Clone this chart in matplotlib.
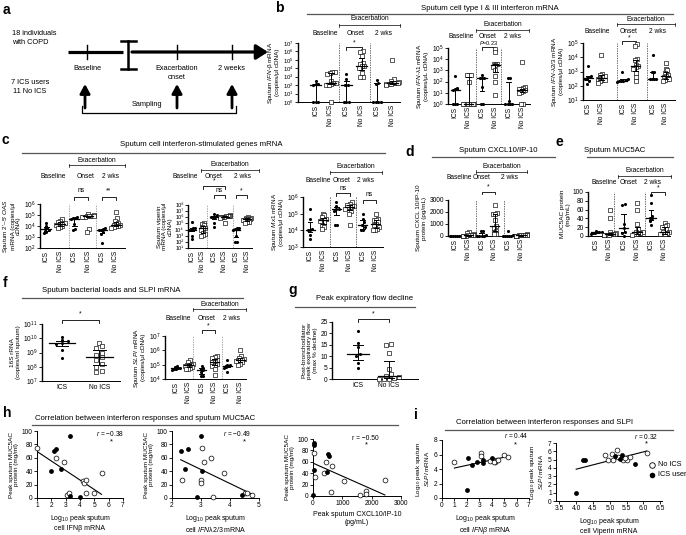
import numpy as np
import matplotlib
matplotlib.use('Agg')
import matplotlib.pyplot as plt
from matplotlib.ticker import FixedLocator, NullLocator, LogFormatterMathtext, FuncFormatter

plt.rcParams['font.family'] = ['Liberation Sans', 'DejaVu Sans']
plt.rcParams['mathtext.fontset'] = 'custom'
plt.rcParams['mathtext.rm'] = 'Liberation Sans'
plt.rcParams['mathtext.it'] = 'Liberation Sans:italic'
plt.rcParams['mathtext.bf'] = 'Liberation Sans:bold'
plt.rcParams['axes.linewidth'] = 0.7

W, H = 686, 535

# ---------------- data ----------------
groups6 = ['ICS', 'No ICS', 'ICS', 'No ICS', 'ICS', 'No ICS']
groups2 = ['ICS', 'No ICS']

ifnb = [[300, 130, 120, 110, 1, 1, 1],
        [4000, 3500, 3000, 2000, 300, 200, 200, 150, 100, 100, 1],
        [2000, 500, 100, 100, 1, 1, 1],
        [1e6, 8e5, 3e5, 4e4, 3e4, 2e4, 2e4, 1e4, 3e3, 1e3, 1e3],
        [400, 200, 150, 1, 1, 1, 1],
        [1e5, 500, 300, 250, 200, 200, 180, 150, 150, 120, 100]]

ifnl1 = [[300, 25, 20, 18, 1, 1, 1],
         [400, 400, 400, 100, 1, 1, 1, 1, 1, 1, 1],
         [400, 200, 200, 200, 30, 1, 1],
         [8e4, 4e4, 4e3, 4e3, 3.5e3, 3e3, 2e3, 1e3, 300, 100, 6],
         [200, 200, 2, 1, 1, 1, 1],
         [6000, 30, 25, 20, 20, 18, 15, 12, 10, 1, 1]]

ifnl23 = [[2500, 500, 400, 350, 300, 200, 130],
          [1.5e4, 700, 600, 500, 400, 350, 300, 250, 250, 200, 150],
          [1000, 300, 250, 220, 200, 200, 180],
          [8e4, 6e4, 7e3, 6e3, 3e3, 2.5e3, 2e3, 1.5e3, 800, 400, 200],
          [1.5e4, 1000, 1000, 300, 300, 300, 280],
          [4000, 1500, 1200, 800, 600, 500, 400, 300, 300, 250, 200]]

oas = [[2e4, 1e4, 6e3, 5e3, 4e3, 3e3, 2.5e3],
       [4e4, 3e4, 2.5e4, 2e4, 1.8e4, 1.5e4, 1.3e4, 1.2e4, 1e4, 8e3, 6e3],
       [6e4, 5e4, 5e4, 4e4, 1.5e4, 5e3, 4e3],
       [1.2e5, 1e5, 9e4, 9e4, 8e4, 8e4, 7e4, 7e4, 6e4, 5e3, 3e3],
       [6e3, 5e3, 4e3, 4e3, 3e3, 2e3, 300],
       [2e5, 5e4, 3e4, 2e4, 1.5e4, 1.3e4, 1.2e4, 1.1e4, 1e4, 8e3, 7e3]]

viperin = [[2e5, 2e4, 1.5e4, 1e4, 1e4, 1e3, 300],
           [1e5, 8e4, 5e4, 3e4, 2e4, 1.5e4, 1e4, 3e3, 2e3, 1.5e3, 1e3],
           [3e6, 2e6, 1e6, 1e6, 1e6, 1e5, 3e4],
           [2e6, 1.8e6, 1.6e6, 1.5e6, 1.4e6, 1.3e6, 1.2e6, 1.1e6, 1e6, 9e5, 1e5],
           [2e4, 1.5e4, 1.2e4, 1e4, 1e3, 100, 80],
           [1e6, 8e5, 7e5, 6e5, 5e5, 5e5, 4e5, 3e5, 2e5, 1.5e5, 1e5]]

mx1 = [[2e5, 5e4, 1.2e4, 1e4, 1e4, 5e3, 3e3],
       [1e5, 8e4, 6e4, 5e4, 4e4, 4e4, 3.5e4, 3e4, 2e4, 1.5e4, 1.2e4],
       [5e5, 3e5, 2e5, 2e5, 1.5e5, 2e4, 2e4],
       [5e5, 4e5, 3.5e5, 3e5, 3e5, 2.5e5, 2.5e5, 2e5, 1.5e5, 1e5, 2e4],
       [1e5, 5e4, 3e4, 2e4, 1.5e4, 1e4, 1e4],
       [1e5, 5e4, 4e4, 4e4, 3e4, 2.5e4, 2e4, 1.5e4, 1.2e4, 1e4, 1e4]]

cxcl10 = [[30, 20, 10, 10, 5, 5, 0],
          [300, 250, 150, 100, 80, 60, 50, 40, 30, 20, 10],
          [450, 400, 50, 20, 10, 5, 0],
          [2600, 1900, 1850, 1850, 1300, 800, 650, 450, 350, 200, 150],
          [450, 50, 30, 20, 10, 5, 0],
          [150, 120, 100, 80, 70, 60, 50, 40, 30, 20, 10]]

muc5ac = [[12, 10, 9, 8, 7, 6, 5],
          [58, 40, 8, 6, 5, 4, 4, 3, 3, 2, 2],
          [73, 71, 27, 18, 10, 6, 0],
          [75, 60, 28, 15, 10, 8, 7, 6, 5, 4, 3],
          [93, 75, 45, 42, 40, 35, 25],
          [30, 25, 22, 20, 15, 10, 8, 6, 5, 5, 4]]

rrna16s = [[1.3e10, 7e9, 6e9, 5e9, 4e9, 1.5e9, 4e8],
           [5e9, 3e9, 2e9, 1e9, 7e8, 5e8, 3e8, 1.5e8, 1e8, 5e7, 4e7]]

slpi = [[8e4, 7e4, 6e4, 6e4, 5e4, 5e4, 4e4],
        [2e5, 1.5e5, 1.2e5, 1e5, 1e5, 9e4, 8e4, 7e4, 6e4, 5e4, 5e4],
        [8e4, 6e4, 5e4, 4e4, 3e4, 1.5e4, 1.5e4],
        [4e5, 3.5e5, 3e5, 2e5, 1.5e5, 1.5e5, 1.2e5, 1e5, 8e4, 5e4, 2e4],
        [2e5, 1e5, 9e4, 8e4, 7e4, 6e4, 3e4],
        [1e6, 4e5, 3e5, 2.5e5, 2e5, 2e5, 2e5, 1.8e5, 1.5e5, 1.2e5, 1e5]]

pef = [[21, 16, 14, 11, 10, 7, 5],
       [15.5, 15, 11.5, 4.5, 2, 1.5, 1, 0.5, 0, 0, 0]]

h1_ics_x = [2.0, 2.2, 2.3, 2.7, 3.3, 3.3, 4.0]
h1_ics_y = [41, 70, 73, 43, 92, 3, 2]
h1_no_x = [1.0, 2.3, 2.9, 3.1, 3.2, 4.2, 4.3, 4.4, 4.4, 5.0, 5.5]
h1_no_y = [75, 60, 53, 5, 8, 25, 22, 27, 7, 8, 38]

h2_ics_x = [2.3, 2.45, 2.55, 2.85, 3.0, 3.05, 4.4]
h2_ics_y = [70, 43, 73, 2, 92, 41, 4]
h2_no_x = [2.35, 3.0, 3.0, 3.05, 3.1, 3.35, 3.4, 3.8, 4.5, 4.6, 4.75]
h2_no_y = [27, 27, 23, 75, 53, 60, 1, 38, 8, 8, 5]

h3_ics_x = [20, 30, 50, 15, 520, 560, 480]
h3_ics_y = [93, 90, 45, 2, 73, 71, 42]
h3_no_x = [20, 60, 380, 430, 650, 600, 1050, 1600, 1800, 1800, 2450]
h3_no_y = [75, 33, 40, 60, 53, 7, 27, 2, 8, 4, 28]

i1_ics_x = [2.1, 2.4, 2.8, 3.3, 3.3, 4.0, 2.0]
i1_ics_y = [5.5, 4.6, 5.0, 4.8, 5.3, 5.5, 1.1]
i1_no_x = [1.0, 3.1, 3.1, 4.1, 4.3, 4.4, 5.0, 5.3, 3.9, 4.2, 4.5]
i1_no_y = [5.0, 6.2, 5.8, 5.2, 5.0, 5.3, 5.9, 5.6, 5.1, 5.0, 5.2]

i2_ics_x = [4.0, 4.2, 4.25, 5.15, 5.3, 5.35, 5.75]
i2_ics_y = [1.0, 5.0, 5.0, 5.4, 5.1, 5.5, 4.5]
i2_no_x = [4.85, 5.05, 5.2, 4.95, 5.1, 5.25, 5.4, 5.5, 5.6, 6.1, 5.45]
i2_no_y = [5.6, 5.7, 6.2, 5.0, 4.9, 5.3, 5.0, 5.0, 5.3, 5.8, 5.2]

r_values = ['$r$ = \u22120.38', '$r$ = \u22120.49', 'r = \u22120.50', '$r$ = 0.44', '$r$ = 0.32']

# ---------------- figure ----------------
fig = plt.figure(figsize=(W / 100, H / 100), dpi=100)
ov = fig.add_axes([0, 0, 1, 1])
ov.set_xlim(0, W)
ov.set_ylim(H, 0)
ov.axis('off')

FS = 4.8
SUP = str.maketrans('0123456789', '\u2070\u00b9\u00b2\u00b3\u2074\u2075\u2076\u2077\u2078\u2079')


def sup_fmt(v, _):
    return '10' + str(int(round(np.log10(v)))).translate(SUP)


def T(x, y, s, **kw):
    kw.setdefault('fontsize', FS)
    kw.setdefault('ha', 'center')
    kw.setdefault('va', 'center')
    ov.text(x, y, s, **kw)


def letter(x, y, s):
    T(x, y, s, fontsize=10, fontweight='bold', ha='left')


def title(x, y, s, lx0, lx1, ly):
    T(x, y, s, fontsize=5.6)
    ov.plot([lx0, lx1], [ly, ly], color='#555555', lw=0.9)


def rect_ax(x0, y0, x1, y1):
    ax = fig.add_axes([x0 / W, 1 - y1 / H, (x1 - x0) / W, (y1 - y0) / H])
    for s in ['top', 'right']:
        ax.spines[s].set_visible(False)
    ax.tick_params(direction='out', length=2, width=0.6, labelsize=FS, pad=1)
    ax.patch.set_alpha(0)
    return ax


def spread(vals, log, yr):
    v = np.log10(np.maximum(vals, 1e-9)) if log else np.asarray(vals, float)
    thresh = 0.06 * (yr[1] - yr[0])
    order = np.argsort(v)
    offs = np.zeros(len(v))
    clusters = []
    for idx in order:
        if clusters and v[idx] - v[clusters[-1][0]] < thresh:
            clusters[-1].append(idx)
        else:
            clusters.append([idx])
    for cl in clusters:
        k = len(cl)
        o = (np.arange(k) - (k - 1) / 2) * 0.16
        o = np.clip(o, -0.42, 0.42)
        for i, oo in zip(cl, o):
            offs[i] = oo
    return offs


def dotplot(rect, data, xlim, log, ylim, yticks, ylabel, pos=None, dashed=(),
            headers=(), head_y=None, exac=None, sigs=(), xlabels=groups6, rot=90,
            ytick_fs=FS, sig_fs=FS, dash_color='#333333', plain_sup=False):
    x0, y0, x1, y1 = rect
    ax = rect_ax(*rect)
    if pos is None:
        pos = list(range(len(data)))
    tr = ax.get_xaxis_transform()

    def yf(py):
        return (y1 - py) / (y1 - y0)

    if log:
        ax.set_yscale('log')
        yr = (np.log10(ylim[0]), np.log10(ylim[1]))
    else:
        yr = ylim
    for i, (vals, p) in enumerate(zip(data, pos)):
        vals = np.asarray(vals, float)
        pv = np.maximum(vals, ylim[0]) if log else vals
        offs = spread(pv, log, yr)
        if i % 2 == 0:
            ax.scatter(p + offs, pv, s=5, c='k', marker='o', lw=0, zorder=3, clip_on=False)
        else:
            ax.scatter(p + offs, pv, s=7, facecolors='white', edgecolors='k', marker='s',
                       lw=0.45, zorder=3, clip_on=False)
        q1, med, q3 = np.percentile(pv, [25, 50, 75])
        ax.plot([p - 0.35, p + 0.35], [med, med], c='k', lw=0.9, zorder=4, clip_on=False)
        ax.plot([p, p], [q1, q3], c='k', lw=0.7, zorder=4, clip_on=False)
        for q in (q1, q3):
            ax.plot([p - 0.17, p + 0.17], [q, q], c='k', lw=0.7, zorder=4, clip_on=False)
    ax.set_xlim(*xlim)
    ax.set_ylim(*ylim)
    ax.yaxis.set_major_locator(FixedLocator(yticks))
    ax.yaxis.set_minor_locator(NullLocator())
    if log:
        if plain_sup:
            ax.yaxis.set_major_formatter(FuncFormatter(sup_fmt))
        else:
            ax.yaxis.set_major_formatter(LogFormatterMathtext())
    ax.tick_params(axis='y', labelsize=ytick_fs)
    ax.set_xticks(pos)
    ax.set_xticklabels(xlabels, rotation=rot, fontsize=FS)
    ax.tick_params(axis='x', length=0, pad=2)
    ax.spines['left'].set_linewidth(1.0)
    ax.set_ylabel(ylabel, fontsize=4.6, labelpad=2, linespacing=1.1)
    for d in dashed:
        ax.axvline(d, ls=(0, (2, 1.5)), color=dash_color, lw=0.5)
    for txt, hx in headers:
        ax.text(hx, yf(head_y), txt, transform=tr, ha='center', va='center', fontsize=FS)
    if exac is not None:
        xa, xb, ty, ly = exac
        ax.plot([xa, xb], [yf(ly)] * 2, transform=tr, c='k', lw=0.5, clip_on=False)
        for xx in (xa, xb):
            ax.plot([xx, xx], [yf(ly - 1.5), yf(ly + 1.5)], transform=tr, c='k', lw=0.5, clip_on=False)
        ax.text((xa + xb) / 2, yf(ty), 'Exacerbation', transform=tr, ha='center', va='center', fontsize=FS)
    for ia, ib, txt, ty, ly in sigs:
        xa, xb = pos[ia], pos[ib]
        ax.plot([xa, xa, xb, xb], [yf(ly + 2.5), yf(ly), yf(ly), yf(ly + 2.5)], transform=tr,
                c='k', lw=0.6, clip_on=False)
        ax.text((xa + xb) / 2, yf(ty), txt, transform=tr, ha='center', va='center', fontsize=sig_fs)
    return ax


def scatterplot(rect, xi, yi, xn, yn, xlim, ylim, xticks, yticks, xlabel, ylabel, rtxt, rpos, star):
    ax = rect_ax(*rect)
    ax.scatter(xn, yn, s=12, facecolors='white', edgecolors='k', lw=0.5, zorder=3, clip_on=False)
    ax.scatter(xi, yi, s=12, c='k', lw=0, zorder=3, clip_on=False)
    allx = np.r_[xi, xn]
    ally = np.r_[yi, yn]
    k, b = np.polyfit(allx, ally, 1)
    xx = np.array([allx.min(), allx.max()])
    ax.plot(xx, k * xx + b, c='k', lw=0.8, zorder=2)
    ax.set_xlim(*xlim)
    ax.set_ylim(*ylim)
    ax.set_xticks(xticks)
    ax.set_yticks(yticks)
    ax.set_xlabel(xlabel, fontsize=5.0, labelpad=3, linespacing=1.1)
    ax.set_ylabel(ylabel, fontsize=4.6, labelpad=2, linespacing=1.1)
    ax.text(rpos[0], rpos[1], rtxt, transform=ax.transAxes, fontsize=FS, ha='center', va='center')
    ax.text(star[0], star[1], '*', fontsize=5.5, ha='center', va='center')
    return ax


# ---------------- panel a (schematic) ----------------
letter(3, 10, 'a')
T(12, 38, '18 individuals\nwith COPD', ha='left', fontsize=5.3, linespacing=1.3)
ov.plot([68, 123], [52, 52], lw=2.3, c='k', solid_capstyle='butt')
ov.plot([128, 128], [41, 69], lw=1.8, c='k')
ov.plot([121, 136], [41, 41], lw=1.8, c='k')
ov.plot([121, 136], [69, 69], lw=1.8, c='k')
ov.annotate('', xy=(268, 52), xytext=(132, 52),
            arrowprops=dict(arrowstyle='-|>,head_length=0.7,head_width=0.45', lw=2.3,
                            color='k', shrinkA=0, shrinkB=0))
for tx in (87, 177, 232):
    ov.plot([tx, tx], [45, 59], lw=1.0, c='k')
T(87, 69, 'Baseline', fontsize=5.3)
T(177, 73, 'Exacerbation\nonset', fontsize=5.3, linespacing=1.3)
T(232, 69, '2 weeks', fontsize=5.3)
T(30, 87, '7 ICS users\n11 No ICS', fontsize=5.3, linespacing=1.3)
for tx in (85, 177, 232):
    ov.annotate('', xy=(tx, 84), xytext=(tx, 108),
                arrowprops=dict(arrowstyle='-|>,head_length=0.55,head_width=0.3', lw=2.0,
                                color='k', shrinkA=0, shrinkB=0))
ov.plot([82, 82, 236, 236], [106, 113, 113, 106], lw=0.9, c='k')
T(147, 105, 'Sampling', fontsize=5.3)

# ---------------- panel b ----------------
letter(275, 8, 'b')
title(490, 8, 'Sputum cell type I & III interferon mRNA', 307, 673, 14)
dotplot((298, 43, 400, 102), ifnb, (-1.15, 5.5), True, (1, 1e7), [10 ** k for k in range(8)],
        'Sputum $\\it{IFN}$-β mRNA\n(copies/μl cDNA)', dashed=(1.5, 3.55),
        headers=[('Baseline', 0.6), ('Onset', 2.6), ('2 wks', 4.4)], head_y=33,
        exac=(1.5, 5.5, 19, 25), sigs=[(2, 3, '*', 43, 47)], ytick_fs=4.3)
dotplot((448, 48, 530, 104), ifnl1, (-0.55, 5.6), True, (1, 1e5), [10 ** k for k in range(6)],
        'Sputum $\\it{IFN}$-λ1 mRNA\n(copies/μL cDNA)', dashed=(1.55, 3.45),
        headers=[('Baseline', 0.45), ('Onset', 2.4), ('2 wks', 4.3)], head_y=37,
        exac=(1.55, 5.55, 25, 30), sigs=[(2, 3, '$P$=0.23', 43, 47)], sig_fs=4.0)
dotplot((583, 43, 675, 100), ifnl23, (-0.4, 6.6), True, (10, 1e5), [10 ** k for k in range(1, 6)],
        'Sputum $\\it{IFN}$-λ2/3 mRNA\n(copies/μl cDNA)', pos=[0, 1, 2.6, 3.6, 4.9, 5.9],
        dashed=(2.15, 4.45),
        headers=[('Baseline', 0.7), ('Onset', 3.1), ('2 wks', 5.3)], head_y=31,
        exac=(2.15, 6.6, 19, 24), sigs=[(2, 3, '*', 38, 41)])

# ---------------- panel c ----------------
letter(2, 140, 'c')
title(201, 145, 'Sputum cell interferon-stimulated genes mRNA', 22, 385, 153)
dotplot((40, 204, 125, 248), oas, (-0.45, 5.65), True, (1e2, 1e6), [10 ** k for k in range(2, 7)],
        "Sputum 2'–5' $\\it{OAS}$\nmRNA (copies/μl\ncDNA)", dashed=(1.6, 3.6),
        headers=[('Baseline', 0.5), ('Onset', 2.8), ('2 wks', 4.6)], head_y=177,
        exac=(1.6, 5.65, 160, 165), sigs=[(2, 3, 'ns', 191, 197), (4, 5, '**', 191, 197)],
        dash_color='#888888')
dotplot((188, 205, 252, 248), viperin, (-0.35, 5.45), True, (10, 1e8), [10 ** k for k in range(1, 9)],
        'Sputum viperin\nmRNA (copies/μl\ncDNA)', dashed=(1.4, 3.7),
        headers=[('Baseline', -0.6), ('Onset', 2.0), ('2 wks', 4.6)], head_y=176,
        exac=(0.8, 6.1, 165, 170),
        sigs=[(1, 3, '*', 181, 186), (2, 3, 'ns', 191, 195), (4, 5, '*', 191, 195)],
        ytick_fs=4.0, dash_color='#888888', plain_sup=True)
dotplot((303, 197, 383, 247), mx1, (-0.55, 5.55), True, (1e3, 1e6), [10 ** k for k in range(3, 7)],
        'Sputum $\\it{Mx1}$ mRNA\n(copies/μl cDNA)', dashed=(1.5, 3.5),
        headers=[('Baseline', 0.6), ('Onset', 2.4), ('2 wks', 4.2)], head_y=180,
        exac=(1.5, 5.5, 167, 172), sigs=[(2, 3, 'ns', 188, 193), (4, 5, 'ns', 195, 200)])

# ---------------- panel d ----------------
letter(405, 152, 'd')
title(498, 150, 'Sputum CXCL10/IP-10', 432, 555, 157)
dotplot((448, 200, 527, 236), cxcl10, (-0.55, 5.45), False, (0, 3000), [0, 1000, 2000, 3000],
        'Sputum CXCL 10/IP-10\nprotein (pg/mL)', dashed=(1.55, 3.7),
        headers=[('Baseline', 0.3), ('Onset', 2.0), ('2 wks', 4.1)], head_y=178,
        exac=(1.55, 5.45, 167, 172), sigs=[(2, 3, '*', 187, 192)])

# ---------------- panel e ----------------
letter(555, 142, 'e')
title(615, 150, 'Sputum MUC5AC', 587, 673, 157)
dotplot((588, 192, 670, 236), muc5ac, (-0.6, 5.4), False, (0, 100), [0, 20, 40, 60, 80, 100],
        'MUC5AC protein\n(mg/mL)', dashed=(1.3, 3.6),
        headers=[('Baseline', 0.55), ('Onset', 2.35), ('2 wks', 4.1)], head_y=183,
        exac=(1.6, 5.5, 170, 176), sigs=[(4, 5, '*', 188, 192)])

# ---------------- panel f ----------------
letter(3, 283, 'f')
title(111, 290, 'Sputum bacterial loads and SLPI mRNA', 22, 243, 298)
dotplot((42, 324, 120, 381), rrna16s, (-0.53, 1.55), True, (1e7, 1e11), [10 ** k for k in range(7, 12)],
        '16S rRNA\n(copies/ml sputum)', xlabels=groups2, rot=0, sigs=[(0, 1, '*', 314, 320)])
dotplot((165, 336, 246, 379), slpi, (-0.85, 5.45), True, (1e4, 1e7), [10 ** k for k in range(4, 8)],
        'Sputum $\\it{SLPI}$ mRNA\n(copies/μl cDNA)', dashed=(1.3, 3.6),
        headers=[('Baseline', 0.15), ('Onset', 2.4), ('2 wks', 4.3)], head_y=318,
        exac=(1.3, 5.45, 304, 309), sigs=[(2, 3, '*', 326, 330)], dash_color='#888888')

# ---------------- panel g ----------------
letter(288, 290, 'g')
title(365, 298, 'Peak expiratory flow decline', 295, 415, 307)
dotplot((332, 322, 418, 379), pef, (-0.84, 1.94), False, (0, 25), [0, 5, 10, 15, 20, 25],
        'Post-bronchodilator\npeak expiratory flow\n(max % decline)', xlabels=groups2, rot=0,
        sigs=[(0, 1, '*', 314, 319)])

# ---------------- panel h ----------------
letter(3, 413, 'h')
title(145, 419, 'Correlation between interferon responses and sputum MUC5AC', 32, 398, 425)
scatterplot((37, 431, 123, 498), h1_ics_x, h1_ics_y, h1_no_x, h1_no_y, (1, 7), (0, 100),
            range(1, 8), range(0, 101, 20), 'Log$_{10}$ peak sputum\ncell IFNβ mRNA',
            'Peak sputum MUC5AC\nprotein (mg/ml)', r_values[0], (0.85, 0.96), (6.2, 83))
scatterplot((172, 431, 259, 498), h2_ics_x, h2_ics_y, h2_no_x, h2_no_y, (2, 5), (0, 100),
            range(2, 6), range(0, 101, 20), 'Log$_{10}$ peak sputum\ncell $\\it{IFN}$λ$\\it{2/3}$ mRNA',
            'Peak sputum MUC5AC\nprotein (mg/ml)', r_values[1], (0.75, 0.96), (4.5, 84))
scatterplot((313, 439, 401, 496), h3_ics_x, h3_ics_y, h3_no_x, h3_no_y, (0, 3000), (0, 100),
            [0, 1000, 2000, 3000], range(0, 101, 20), 'Peak sputum CXCL10/IP-10\n(pg/mL)',
            'Peak sputum MUC5AC\nprotein (mg/ml)', r_values[2], (0.6, 1.0), (1810, 89))

# ---------------- panel i ----------------
letter(414, 415, 'i')
title(544, 422, 'Correlation between interferon responses and SLPI', 445, 673, 430)
scatterplot((442, 440, 529, 498), i1_ics_x, i1_ics_y, i1_no_x, i1_no_y, (0, 7), (0, 8),
            range(0, 8), range(0, 9, 2), 'Log$_{10}$ peak sputum\ncell $\\it{IFN}\\beta$ mRNA',
            'Log$_{10}$ peak sputum\n$\\it{SLPI}$ mRNA', r_values[3], (0.85, 1.07), (5.9, 7.3))
scatterplot((556, 443, 662, 501), i2_ics_x, i2_ics_y, i2_no_x, i2_no_y, (3.4, 6.55), (0, 7),
            [3.5, 4.0, 4.5, 5.0, 5.5, 6.0, 6.5], range(0, 8), 'Log$_{10}$ peak sputum\ncell Viperin mRNA',
            'Log$_{10}$ peak sputum\n$\\it{SLPI}$ mRNA', r_values[4], (0.85, 1.12), (6.1, 6.9))
ov.scatter([652], [465], s=16, facecolors='white', edgecolors='k', lw=0.6)
ov.scatter([652], [475], s=16, c='k', lw=0)
T(658, 465, 'No ICS', ha='left', fontsize=5.3)
T(658, 475, 'ICS user', ha='left', fontsize=5.3)

fig.savefig('out.png', dpi=100)
